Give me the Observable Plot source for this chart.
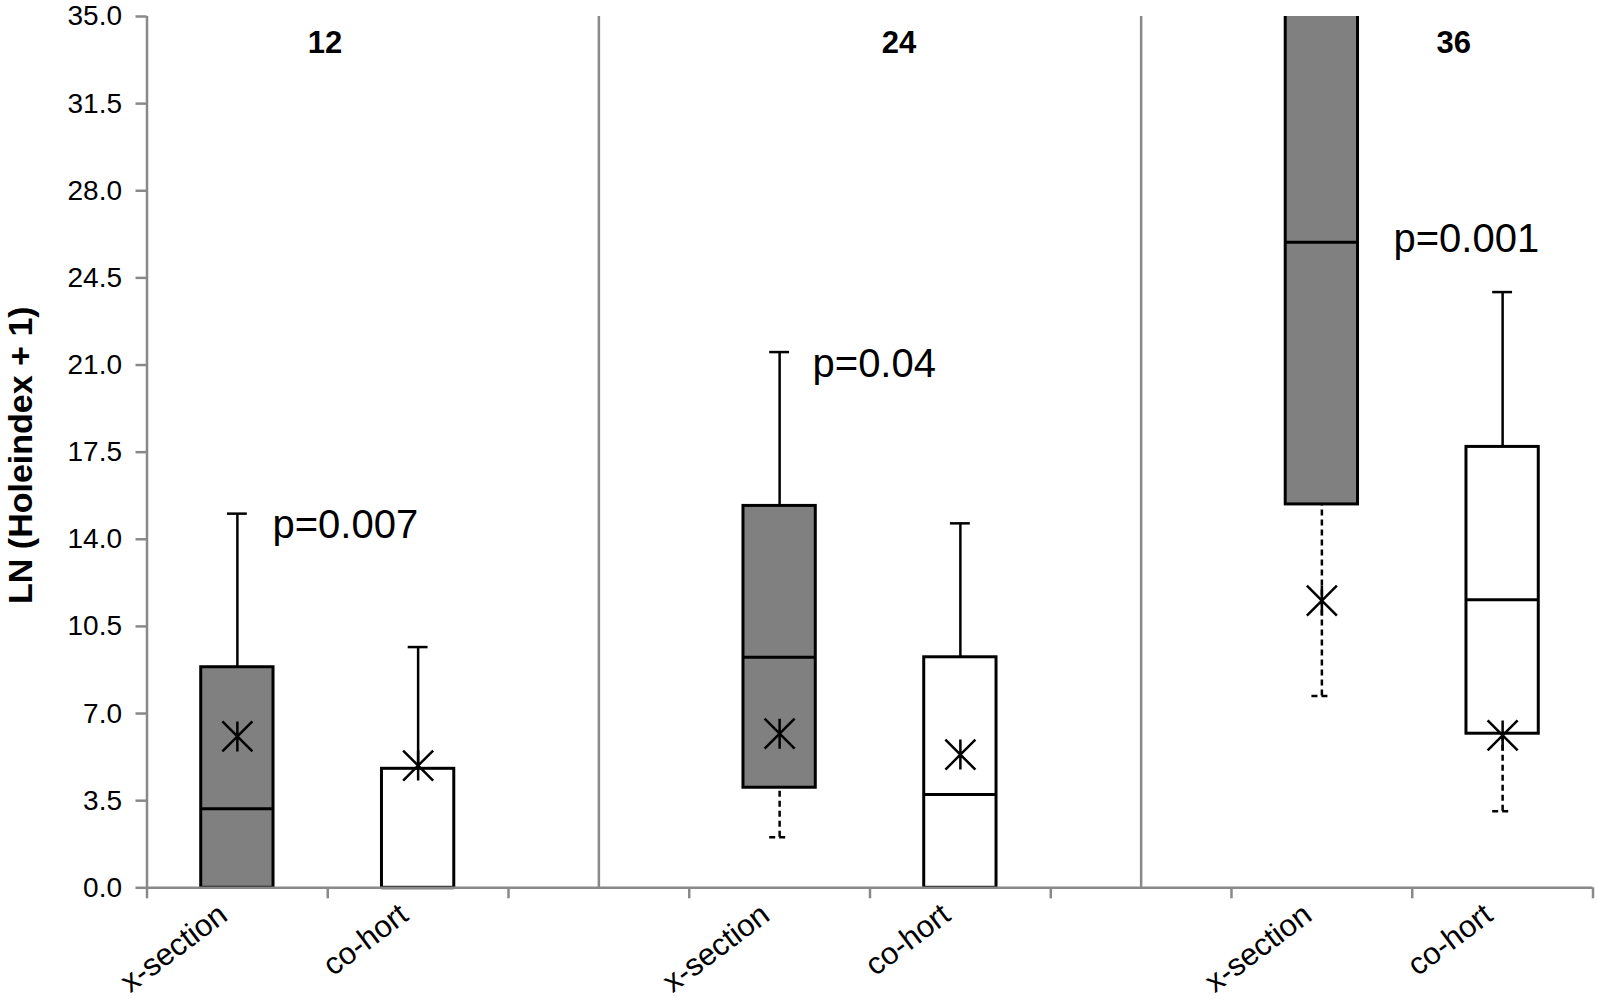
<!DOCTYPE html>
<html>
<head>
<meta charset="utf-8">
<script src="https://cdn.jsdelivr.net/npm/d3@7"></script>
<script src="https://cdn.jsdelivr.net/npm/@observablehq/plot@0.6"></script>
<style>
  html, body { margin: 0; padding: 0; background: #fff; }
  svg { display: block; }
</style>
</head>
<body>
<div id="chart"></div>
<script>
// ---- data ----
const categories = ["x-section", "co-hort", "", "x-section", "co-hort", "", "x-section", "co-hort"];
const groups = ["12", "24", "36"];
const boxGroup = ["12", "12", "24", "24", "36", "36"];
const boxType = ["x-section", "co-hort", "x-section", "co-hort", "x-section", "co-hort"];
const boxSlot = [0, 1, 3, 4, 6, 7];               // category index on the axis
const q1 = [0, 0, 4.02, 0, 15.40, 6.19];
const median = [3.18, 0, 9.26, 3.75, 25.93, 11.57];
const q3 = [8.86, 4.78, 15.34, 9.26, 38, 17.71];    // 36 x-section runs off the top
const whiskerLow = [null, null, 2.03, null, 7.70, 3.07];
const whiskerHigh = [15.03, 9.67, 21.52, 14.64, null, 23.93];
const mean = [6.08, 4.91, 6.19, 5.35, 11.54, 6.12];
const separators = [2.5, 5.5];
const pLabels = ["p=0.007", "p=0.04", "p=0.001"];
const yTicks = [0, 3.5, 7, 10.5, 14, 17.5, 21, 24.5, 28, 31.5, 35];
const yLabel = "LN (Holeindex + 1)";

// annotation anchors (data units)
const pAnchorX = [0.694, 3.682, 6.896];
const pAnchorY = [14.07, 20.5, 25.52];
const groupAnchorX = [0.985, 4.16, 7.23];
const groupAnchorY = [33.55, 33.55, 33.55];

// ---- derived tables ----
const boxes = boxSlot.map((s, i) => ({
  slot: s, group: boxGroup[i], type: boxType[i],
  q1: q1[i], median: median[i], q3: q3[i],
  lo: whiskerLow[i], hi: whiskerHigh[i], mean: mean[i]
}));
const pNotes = pLabels.map((t, i) => ({text: t, x: pAnchorX[i], y: pAnchorY[i]}));
const gNotes = groups.map((t, i) => ({text: t, x: groupAnchorX[i], y: groupAnchorY[i]}));
const catLabels = categories.map((c, i) => ({text: c, x: i + 0.5}));

const axisGray = "#898989";
const boxHalf = 0.2;
const capHalf = 0.055;

const asterisk = {
  draw(context, size) {
    const r = Math.sqrt(size / Math.PI);
    context.moveTo(-r, -r); context.lineTo(r, r);
    context.moveTo(-r, r); context.lineTo(r, -r);
    context.moveTo(0, -r); context.lineTo(0, r);
  }
};

const chart = Plot.plot({
  width: 1598,
  height: 999,
  marginLeft: 146.5,
  marginRight: 5.5,
  marginTop: 16,
  marginBottom: 111.7,
  style: {fontFamily: "'Liberation Sans', Arial, sans-serif", background: "#fff", overflow: "visible"},
  x: {type: "linear", domain: [0, 8], axis: null},
  y: {type: "linear", domain: [0, 35], axis: null},
  marks: [
    // group separators
    Plot.ruleX(separators, {x: d => d, y1: 0, y2: 35, stroke: axisGray, strokeWidth: 2.5}),
    // upper whiskers
    Plot.ruleX(boxes.filter(d => d.hi != null), {x: d => d.slot + 0.5, y1: "q3", y2: "hi", stroke: "#000", strokeWidth: 2.5}),
    Plot.ruleY(boxes.filter(d => d.hi != null), {y: "hi", x1: d => d.slot + 0.5 - capHalf, x2: d => d.slot + 0.5 + capHalf, stroke: "#000", strokeWidth: 2.5}),
    // lower whiskers (dashed)
    Plot.ruleX(boxes.filter(d => d.lo != null), {x: d => d.slot + 0.5, y1: "lo", y2: "q1", stroke: "#000", strokeWidth: 2.5, strokeDasharray: "6,4"}),
    Plot.ruleY(boxes.filter(d => d.lo != null), {y: "lo", x1: d => d.slot + 0.5 - capHalf, x2: d => d.slot + 0.5 + capHalf, stroke: "#000", strokeWidth: 2.5, strokeDasharray: "6,4"}),
    // boxes
    Plot.rect(boxes, {
      x1: d => d.slot + 0.5 - boxHalf, x2: d => d.slot + 0.5 + boxHalf,
      y1: "q1", y2: "q3",
      fill: d => d.type === "x-section" ? "#808080" : "#ffffff",
      stroke: "#000", strokeWidth: 3, clip: "frame"
    }),
    // medians
    Plot.ruleY(boxes, {y: "median", x1: d => d.slot + 0.5 - boxHalf, x2: d => d.slot + 0.5 + boxHalf, stroke: "#000", strokeWidth: 3}),
    // means
    Plot.dot(boxes, {x: d => d.slot + 0.5, y: "mean", r: 15, symbol: asterisk, fill: "none", stroke: "#000", strokeWidth: 2.5}),
    // axes lines
    Plot.ruleX([0], {x: d => d, y1: 0, y2: 35, stroke: axisGray, strokeWidth: 2.5}),
    Plot.ruleY([0], {y: d => d, x1: 0, x2: 8, stroke: axisGray, strokeWidth: 2.5}),
    // y axis ticks + labels
    Plot.axisY({ticks: yTicks, tickFormat: d3.format(".1f"), tickSize: 11, tickPadding: 14, fontSize: 28, stroke: axisGray, strokeWidth: 2.5, fill: "#000", label: null}),
    // x axis ticks (category boundaries)
    Plot.axisX({ticks: d3.range(9), tickFormat: () => "", tickSize: 11, stroke: axisGray, strokeWidth: 2.5, label: null}),
    // category labels
    Plot.text(catLabels, {x: "x", frameAnchor: "bottom", text: "text", rotate: -37, textAnchor: "end", lineAnchor: "bottom", dx: -8, dy: 31, fontSize: 31, fill: "#000"}),
    // y label
    Plot.text([yLabel], {frameAnchor: "left", text: d => d, rotate: -90, textAnchor: "middle", lineAnchor: "middle", dx: -125.5, dy: 3, fontSize: 34, fontWeight: "bold", fill: "#000"}),
    // group labels
    Plot.text(gNotes, {x: "x", y: "y", text: "text", textAnchor: "middle", lineAnchor: "bottom", fontSize: 31, fontWeight: "bold", fill: "#000"}),
    // p values
    Plot.text(pNotes, {x: "x", y: "y", text: "text", textAnchor: "start", lineAnchor: "bottom", fontSize: 40, fill: "#000"})
  ]
});
document.getElementById("chart").appendChild(chart);
</script>
</body>
</html>
